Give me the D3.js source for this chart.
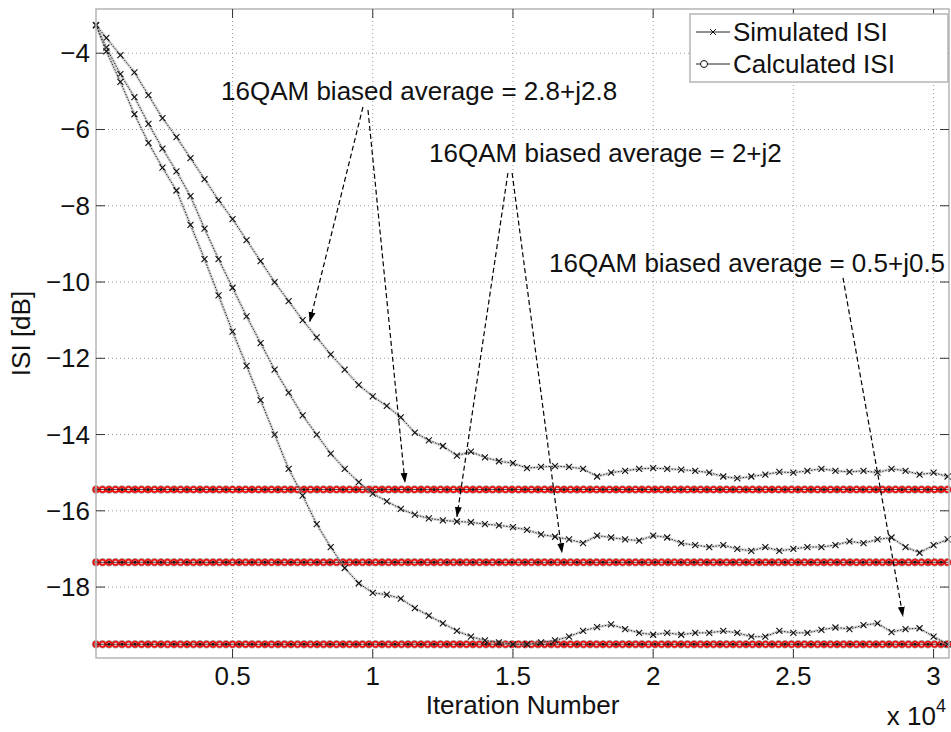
<!DOCTYPE html>
<html>
<head>
<meta charset="utf-8">
<script src="https://cdn.jsdelivr.net/npm/d3@7/dist/d3.min.js"></script>
<style>
  body { margin: 0; background: #fff; }
  text { font-family: "Liberation Sans", Arial, sans-serif; fill: #111; }
</style>
</head>
<body>
<div id="chart"></div>
<script>
// iteration number, in units of 10^4
var iters = [0.013, 0.05, 0.10, 0.15, 0.20, 0.25, 0.30, 0.35, 0.40, 0.45, 0.50, 0.55, 0.60, 0.65, 0.70, 0.75,
  0.80, 0.85, 0.90, 0.95, 1.00, 1.05, 1.10, 1.15, 1.20, 1.25, 1.30, 1.35, 1.40, 1.45, 1.50, 1.55,
  1.60, 1.65, 1.70, 1.75, 1.80, 1.85, 1.90, 1.95, 2.00, 2.05, 2.10, 2.15, 2.20, 2.25, 2.30, 2.35,
  2.40, 2.45, 2.50, 2.55, 2.60, 2.65, 2.70, 2.75, 2.80, 2.85, 2.90, 2.95, 3.00, 3.05];

// simulated ISI [dB], biased average 2.8+j2.8
var sim28 = [-3.26, -3.6, -4.05, -4.5, -5.1, -5.7, -6.2, -6.75, -7.3, -7.85, -8.35, -8.9, -9.45, -10.0, -10.5, -11.0,
  -11.45, -11.9, -12.3, -12.7, -13.0, -13.25, -13.55, -13.95, -14.15, -14.3, -14.55, -14.45, -14.6, -14.7, -14.75, -14.88,
  -14.85, -14.83, -14.85, -14.9, -15.1, -15.0, -14.95, -14.9, -14.88, -14.9, -14.92, -14.95, -15.0, -15.1, -15.15, -15.1,
  -15.05, -14.98, -15.0, -14.95, -14.9, -14.95, -14.98, -14.95, -15.0, -14.9, -14.95, -15.05, -15.0, -15.1];

// simulated ISI [dB], biased average 2+j2
var sim2 = [-3.26, -3.85, -4.55, -5.15, -5.85, -6.5, -7.1, -7.75, -8.6, -9.4, -10.15, -10.9, -11.6, -12.3, -12.9, -13.5,
  -14.0, -14.5, -14.9, -15.25, -15.55, -15.75, -15.95, -16.1, -16.2, -16.25, -16.28, -16.3, -16.35, -16.38, -16.43, -16.5,
  -16.62, -16.68, -16.75, -16.85, -16.65, -16.7, -16.75, -16.78, -16.65, -16.7, -16.85, -16.9, -16.95, -16.9, -17.0, -17.05,
  -16.95, -17.05, -17.0, -16.95, -16.95, -16.9, -16.8, -16.85, -16.75, -16.7, -16.95, -17.1, -16.9, -16.75];

// simulated ISI [dB], biased average 0.5+j0.5
var sim05 = [-3.26, -3.95, -4.75, -5.6, -6.35, -7.0, -7.6, -8.5, -9.4, -10.35, -11.3, -12.2, -13.1, -14.0, -14.9, -15.6,
  -16.35, -16.95, -17.5, -17.9, -18.15, -18.2, -18.3, -18.55, -18.75, -18.95, -19.15, -19.3, -19.4, -19.45, -19.5, -19.5,
  -19.45, -19.4, -19.3, -19.15, -19.05, -18.98, -19.1, -19.2, -19.25, -19.2, -19.25, -19.2, -19.2, -19.15, -19.2, -19.3,
  -19.3, -19.15, -19.2, -19.2, -19.12, -19.06, -19.1, -19.0, -18.95, -19.18, -19.1, -19.08, -19.3, -19.5];

// calculated ISI [dB] for 2.8+j2.8, 2+j2, 0.5+j0.5
var calcISI = [-15.44, -17.35, -19.5];

var xTicks = [0.5, 1, 1.5, 2, 2.5, 3];
var yTicks = [-4, -6, -8, -10, -12, -14, -16, -18];

// annotation texts and arrows, in data units (x in 10^4, y in dB)
var noteText = ["16QAM biased average = 2.8+j2.8", "16QAM biased average = 2+j2", "16QAM biased average = 0.5+j0.5"];
var notePos = [[0.459, -5.23, "start"], [1.201, -6.85, "start"], [3.041, -9.74, "end"]];
var arrows = [
  [0.965, -5.41, 0.775, -11.05],
  [0.983, -5.49, 1.115, -15.27],
  [1.482, -7.14, 1.300, -16.16],
  [1.497, -7.14, 1.675, -17.11],
  [2.677, -9.89, 2.891, -18.78]
];

var W = 951, H = 732;
var margin = {top: 9, right: 2, bottom: 74, left: 96},
    width = W - margin.left - margin.right,
    height = H - margin.top - margin.bottom;

var svg = d3.select("#chart")
  .append("svg")
    .attr("width", W)
    .attr("height", H)
    .style("display", "block");

var g = svg.append("g")
    .attr("transform", "translate(" + margin.left + "," + margin.top + ")");

var x = d3.scaleLinear().domain([0.013, 3.055]).range([0, width]);
var y = d3.scaleLinear().domain([-2.84, -19.86]).range([0, height]);

// grid
g.selectAll(".gx").data(xTicks).enter().append("line")
  .attr("x1", function(d){ return x(d); }).attr("x2", function(d){ return x(d); })
  .attr("y1", 0).attr("y2", height)
  .attr("stroke", "#9a9a9a").attr("stroke-width", 1).attr("stroke-dasharray", "1,3");
g.selectAll(".gy").data(yTicks).enter().append("line")
  .attr("y1", function(d){ return y(d); }).attr("y2", function(d){ return y(d); })
  .attr("x1", 0).attr("x2", width)
  .attr("stroke", "#9a9a9a").attr("stroke-width", 1).attr("stroke-dasharray", "1,3");

// calculated ISI levels: red circles with black stars
var flat = d3.line().x(function(d){ return x(d[0]); }).y(function(d){ return y(d[1]); });
calcISI.forEach(function(v) {
  var pts = [[x.domain()[0], v], [x.domain()[1], v]];
  g.append("path").attr("d", flat(pts)).attr("stroke", "#777").attr("stroke-width", 8.5)
    .attr("stroke-dasharray", "0,6.5").attr("stroke-linecap", "round").attr("fill", "none").attr("opacity", 0.6);
  g.append("path").attr("d", flat(pts)).attr("stroke", "#f01010").attr("stroke-width", 7)
    .attr("stroke-dasharray", "0,6.5").attr("stroke-linecap", "round").attr("fill", "none");
  g.append("path").attr("d", flat(pts)).attr("stroke", "#f6dede").attr("stroke-width", 3.6)
    .attr("stroke-dasharray", "0,6.5").attr("stroke-linecap", "round").attr("fill", "none");
  g.append("path").attr("d", flat(pts)).attr("stroke", "#222").attr("stroke-width", 0.8).attr("fill", "none");
  g.append("path").attr("d", flat(pts)).attr("stroke", "#111").attr("stroke-width", 3)
    .attr("stroke-dasharray", "0,13").attr("stroke-linecap", "round").attr("fill", "none");
});

// simulated ISI curves
var line = d3.line()
  .x(function(d, i){ return x(iters[i]); })
  .y(function(d){ return y(d); });

[sim28, sim2, sim05].forEach(function(s) {
  g.append("path").datum(s).attr("d", line)
    .attr("fill", "none").attr("stroke", "#aaa").attr("stroke-width", 3).attr("opacity", 0.45);
  g.append("path").datum(s).attr("d", line)
    .attr("fill", "none").attr("stroke", "#222").attr("stroke-width", 1)
    .attr("stroke-dasharray", "1.5,1.5");
  g.selectAll(null).data(s).enter().append("path")
    .attr("transform", function(d, i){ return "translate(" + x(iters[i]) + "," + y(d) + ")"; })
    .attr("d", "M-3,-3L3,3M-3,3L3,-3")
    .attr("stroke", "#111").attr("stroke-width", 1.1);
});

// box and ticks
g.append("rect").attr("width", width).attr("height", height)
  .attr("fill", "none").attr("stroke", "#b5b5b5").attr("stroke-width", 1.5);
g.selectAll(".tx").data(xTicks).enter().append("path")
  .attr("d", function(d){ return "M" + x(d) + "," + height + "v-9M" + x(d) + ",0v9"; })
  .attr("stroke", "#333").attr("stroke-width", 1);
g.selectAll(".ty").data(yTicks).enter().append("path")
  .attr("d", function(d){ return "M0," + y(d) + "h9M" + width + "," + y(d) + "h-9"; })
  .attr("stroke", "#333").attr("stroke-width", 1);

// tick labels
g.selectAll(".lx").data(xTicks).enter().append("text")
  .attr("x", function(d){ return x(d); }).attr("y", height + 27)
  .attr("text-anchor", "middle").attr("font-size", 26)
  .text(function(d){ return d; });
g.selectAll(".ly").data(yTicks).enter().append("text")
  .attr("x", -6).attr("y", function(d){ return y(d) + 9; })
  .attr("text-anchor", "end").attr("font-size", 26)
  .text(function(d){ return "\u2212" + Math.abs(d); });

// axis titles
g.append("text").attr("x", width / 2).attr("y", height + 56)
  .attr("text-anchor", "middle").attr("font-size", 26).text("Iteration Number");
g.append("text").attr("transform", "translate(-66," + (height / 2) + ") rotate(-90)")
  .attr("text-anchor", "middle").attr("font-size", 26).text("ISI [dB]");
var mult = g.append("text").attr("x", width - 3).attr("y", height + 67)
  .attr("text-anchor", "end").attr("font-size", 26);
mult.append("tspan").text("x 10");
mult.append("tspan").attr("font-size", 18).attr("dy", -13).text("4");

// annotations
svg.append("defs").append("marker")
  .attr("id", "head").attr("viewBox", "0 0 10 10").attr("refX", 10).attr("refY", 5)
  .attr("markerWidth", 10).attr("markerHeight", 10).attr("markerUnits", "userSpaceOnUse")
  .attr("orient", "auto")
  .append("path").attr("d", "M0,1.5L10,5L0,8.5Z").attr("fill", "#000");

g.selectAll(".arrow").data(arrows).enter().append("line")
  .attr("x1", function(d){ return x(d[0]); }).attr("y1", function(d){ return y(d[1]); })
  .attr("x2", function(d){ return x(d[2]); }).attr("y2", function(d){ return y(d[3]); })
  .attr("stroke", "#000").attr("stroke-width", 1.2).attr("stroke-dasharray", "5,3")
  .attr("marker-end", "url(#head)");

g.selectAll(".note").data(noteText).enter().append("text")
  .attr("x", function(d, i){ return x(notePos[i][0]); })
  .attr("y", function(d, i){ return y(notePos[i][1]); })
  .attr("text-anchor", function(d, i){ return notePos[i][2]; })
  .attr("font-size", 26)
  .text(function(d){ return d; });

// legend
var leg = svg.append("g").attr("transform", "translate(690,14)");
leg.append("rect").attr("width", 258).attr("height", 68)
  .attr("fill", "#fff").attr("stroke", "#b5b5b5").attr("stroke-width", 1.5);
leg.append("line").attr("x1", 6).attr("x2", 40).attr("y1", 18).attr("y2", 18)
  .attr("stroke", "#222").attr("stroke-width", 1);
leg.append("path").attr("d", "M20,15L26,21M20,21L26,15").attr("stroke", "#111").attr("stroke-width", 1);
leg.append("text").attr("x", 43).attr("y", 27).attr("font-size", 26).text("Simulated ISI");
leg.append("line").attr("x1", 6).attr("x2", 40).attr("y1", 50).attr("y2", 50)
  .attr("stroke", "#222").attr("stroke-width", 1);
leg.append("circle").attr("cx", 14).attr("cy", 50).attr("r", 3.5)
  .attr("fill", "#fff").attr("stroke", "#111").attr("stroke-width", 1);
leg.append("text").attr("x", 43).attr("y", 59).attr("font-size", 26).text("Calculated ISI");
</script>
</body>
</html>
